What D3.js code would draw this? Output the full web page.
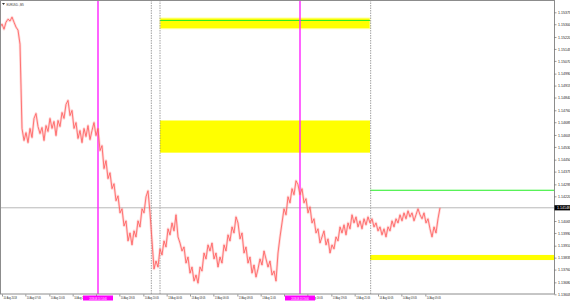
<!DOCTYPE html>
<html><head><meta charset="utf-8">
<script src="https://cdn.jsdelivr.net/npm/d3@7"></script>
<style>html,body{margin:0;padding:0;background:#fff;overflow:hidden}</style>
</head><body><svg id="c" width="570" height="303"></svg>
<script>
// ---- data ----
const symbolTitle = "EURUSD..,M5";
const barStep = 3; // M5 bars between consecutive samples
const closePrices = [
1.15282,1.15301,1.15269,1.15313,1.15332,1.15320,1.15345,1.15313,1.15282,1.15263,
1.15175,1.14646,1.14570,1.14620,1.14557,1.14646,1.14589,1.14709,1.14740,1.14658,
1.14614,1.14652,1.14570,1.14664,1.14627,1.14709,1.14646,1.14690,1.14601,1.14696,
1.14658,1.14746,1.14709,1.14797,1.14822,1.14727,1.14759,1.14646,1.14683,1.14583,
1.14633,1.14557,1.14646,1.14595,1.14664,1.14576,1.14633,1.14683,1.14601,1.14646,
1.14507,1.14538,1.14394,1.14444,1.14331,1.14368,1.14268,1.14299,1.14192,1.14223,
1.14116,1.14142,1.14034,1.14066,1.13940,1.13990,1.13915,1.14003,1.13965,1.14066,
1.14028,1.14142,1.14116,1.14217,1.14255,1.14116,1.13940,1.13764,1.13814,1.13776,
1.13890,1.13852,1.13940,1.13902,1.14016,1.13978,1.14053,1.14003,1.14104,1.13965,
1.13927,1.13877,1.13902,1.13801,1.13839,1.13738,1.13776,1.13688,1.13726,1.13675,
1.13776,1.13751,1.13864,1.13827,1.13915,1.13877,1.13927,1.13827,1.13864,1.13776,
1.13839,1.13801,1.13915,1.13877,1.13978,1.13940,1.14028,1.13990,1.14091,1.14053,
1.13953,1.13990,1.13864,1.13902,1.13801,1.13839,1.13738,1.13789,1.13713,1.13764,
1.13827,1.13789,1.13877,1.13827,1.13776,1.13814,1.13726,1.13751,1.13688,1.13864,
1.13965,1.14053,1.14142,1.14104,1.14217,1.14179,1.14268,1.14230,1.14318,1.14293,
1.14230,1.14268,1.14179,1.14205,1.14116,1.14154,1.14053,1.14079,1.13990,1.14016,
1.13927,1.13965,1.14003,1.13915,1.13953,1.13864,1.13915,1.13890,1.13965,1.13940,
1.14028,1.13990,1.14041,1.13978,1.14053,1.14016,1.14104,1.14053,1.14091,1.14028,
1.14066,1.14016,1.14079,1.14041,1.14091,1.14053,1.14079,1.14028,1.14053,1.14003,
1.14028,1.13978,1.14016,1.13965,1.14028,1.14003,1.14066,1.14028,1.14079,1.14053,
1.14104,1.14066,1.14116,1.14079,1.14129,1.14091,1.14116,1.14066,1.14104,1.14142,
1.14104,1.14079,1.14116,1.14053,1.14079,1.14016,1.13965,1.14028,1.13990,1.14079,
1.14148
];
const bidPrice = 1.14148;
const bidLabel = "1.14148";
const priceTickValues = [1.15375,1.15300,1.15220,1.15145,1.15070,1.14990,1.14915,1.14840,
  1.14760,1.14685,1.14605,1.14530,1.14450,1.14375,1.14295,1.14220,1.14065,1.13990,
  1.13910,1.13835,1.13760,1.13680,1.13605];
const timeTickBars = [3,38,74,109,144,179,215,250,285,320,356,391,426,461,497,532,567,602,638];
const timeLabels = ["10 Aug 2018","10 Aug 07:05","10 Aug 10:05","10 Aug 13:05","",
  "10 Aug 18:05","10 Aug 20:05","13 Aug 00:05","13 Aug 03:05","13 Aug 06:05","13 Aug 08:05",
  "13 Aug 11:05","13 Aug 13:05","13 Aug 16:05","13 Aug 19:05","13 Aug 21:05","14 Aug 00:05",
  "14 Aug 03:05","14 Aug 05:05"];
const vlineBars = [147, 450];
const vlineLabels = ["2018.08.10 14:40", "2018.08.13 15:00"];
const separatorBars = [227, 240, 556];
const zoneBar0 = [240, 240, 555];
const zoneBar1 = [555, 555, 831];
const zoneTop = [1.15339, 1.14696, 1.13852];
const zoneBottom = [1.15272, 1.14494, 1.13820];
const levelBar0 = [240, 555];
const levelBar1 = [555, 831];
const levelPrice = [1.15324, 1.14258];

// ---- chart ----
const svg = d3.select("#c");
const plotR = 554, plotB = 294;
const x = d3.scaleLinear().domain([0, 831]).range([0, plotR]);
const y = d3.scaleLinear().domain([1.13605, 1.15375]).range([294.3, 12.3]);
const FONT = "Liberation Sans, Arial, sans-serif";
const SX = 0.54; // horizontal squeeze of the tiny MT4 font

svg.append("rect").attr("width",570).attr("height",303).attr("fill","#fff");

svg.append("defs").append("clipPath").attr("id","pc")
  .append("rect").attr("x",0).attr("y",0).attr("width",plotR).attr("height",plotB);
const g = svg.append("g").attr("clip-path","url(#pc)");

// zones
zoneTop.forEach((t,i)=>{
  g.append("rect")
    .attr("x", x(zoneBar0[i])).attr("width", x(zoneBar1[i]) - x(zoneBar0[i]))
    .attr("y", y(t)).attr("height", y(zoneBottom[i]) - y(t))
    .attr("fill", "#ffff00")
    .attr("stroke", i === 0 ? "#ffff99" : "none").attr("stroke-width", 1);
});
// levels
levelPrice.forEach((p,i)=>{
  g.append("line")
    .attr("x1", x(levelBar0[i])).attr("x2", x(levelBar1[i]))
    .attr("y1", y(p)).attr("y2", y(p))
    .attr("stroke", "#22ee22").attr("stroke-width", 1);
});
// period separators
separatorBars.forEach(b=>{
  g.append("line").attr("x1",x(b)).attr("x2",x(b)).attr("y1",0).attr("y2",plotB)
    .attr("stroke","#8a8a8a").attr("stroke-width",0.8).attr("stroke-dasharray","1.5,1");
});
// bid line
g.append("line").attr("x1",0).attr("x2",plotR).attr("y1",y(bidPrice)).attr("y2",y(bidPrice))
  .attr("stroke","#b8b8b8").attr("stroke-width",1);
// vertical magenta lines
vlineBars.forEach(b=>{
  g.append("line").attr("x1",x(b)).attr("x2",x(b)).attr("y1",0).attr("y2",plotB)
    .attr("stroke","#ff22ff").attr("stroke-width",1.4);
});
// price line (soft halo + core to mimic dense M5 bars)
const line = d3.line().x((d,i)=>x(i*barStep)).y(d=>y(d));
g.append("path").datum(closePrices).attr("d",line)
  .attr("fill","none").attr("stroke","#ff9090").attr("stroke-width",2.6)
  .attr("stroke-linejoin","round").attr("opacity",0.35);
g.append("path").datum(closePrices).attr("d",line)
  .attr("fill","none").attr("stroke","#ff5a5a").attr("stroke-width",0.9)
  .attr("stroke-linejoin","round").attr("opacity",0.9);

// frame
svg.append("rect").attr("x",0.5).attr("y",0.5).attr("width",plotR).attr("height",plotB-0.5)
  .attr("fill","none").attr("stroke","#8c8c8c").attr("stroke-width",1);

// price axis
const ay = svg.append("g").attr("transform",`translate(${plotR+0.5},0)`)
  .call(d3.axisRight(y).tickValues(priceTickValues).tickSize(2).tickPadding(1.5)
    .tickFormat(d3.format(".5f")));
ay.select(".domain").remove();
ay.selectAll("line").attr("stroke","#555").attr("stroke-width",0.6);
ay.selectAll("text").attr("font-family",FONT).attr("font-size",3.55).attr("fill","#222")
  .attr("dy","0.35em");

// time axis
const ax = svg.append("g").attr("transform",`translate(0,${plotB+0.5})`)
  .call(d3.axisBottom(x).tickValues(timeTickBars).tickSize(2).tickPadding(0)
    .tickFormat((d,i)=>timeLabels[i]));
ax.select(".domain").remove();
ax.selectAll("line").attr("stroke","#555").attr("stroke-width",0.6);
ax.selectAll("text").attr("font-family",FONT).attr("font-size",4.4).attr("fill","#222")
  .attr("text-anchor","start").attr("x",1/SX).attr("y",5).attr("dy",0)
  .attr("transform",`scale(${SX},1)`);

// vline time boxes
vlineBars.forEach((b,i)=>{
  svg.append("rect").attr("x",x(b)-15).attr("y",295.5).attr("width",30).attr("height",5)
    .attr("fill","#ff00ff");
  svg.append("text").attr("transform",`translate(${x(b)},299.6) scale(${SX},1)`)
    .attr("text-anchor","middle")
    .attr("font-family",FONT).attr("font-size",4.2).attr("fill","#fff").text(vlineLabels[i]);
});

// bid price box
svg.append("rect").attr("x",plotR+0.5).attr("y",y(bidPrice)-2.6).attr("width",16).attr("height",5.2)
  .attr("fill","#000");
svg.append("text").attr("x",plotR+3).attr("y",y(bidPrice)).attr("dy","0.35em")
  .attr("font-family",FONT).attr("font-size",3.55).attr("fill","#fff").text(bidLabel);

// title
svg.append("path").attr("d","M2,3 L5,3 L3.5,5 Z").attr("fill","#333");
svg.append("text").attr("transform",`translate(6.5,5.6) scale(${SX+0.1},1)`)
  .attr("font-family",FONT).attr("font-size",4.2).attr("fill","#333").text(symbolTitle);
</script></body></html>
